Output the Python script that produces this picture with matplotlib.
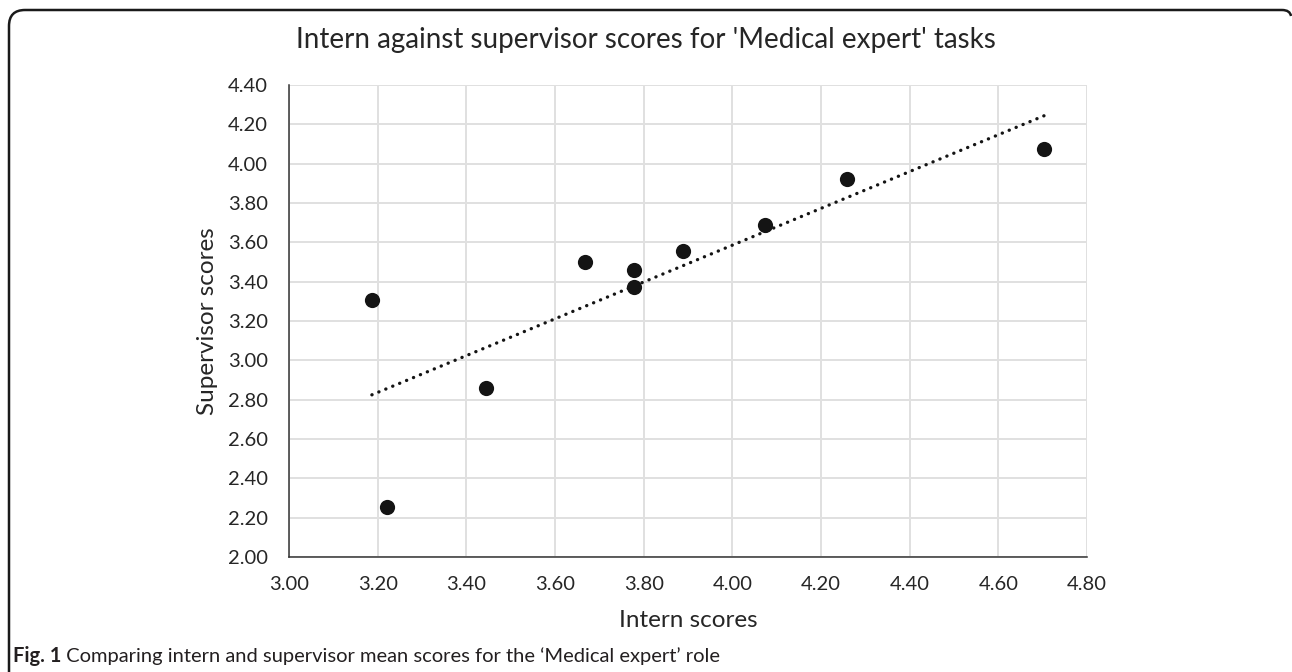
import numpy as np
import matplotlib
matplotlib.use('Agg')
import matplotlib.pyplot as plt
from matplotlib.path import Path
from matplotlib.patches import PathPatch

# Data
intern_scores = [3.187, 3.222, 3.444, 3.667, 3.778, 3.778, 3.889, 4.074, 4.259, 4.704]
supervisor_scores = [3.307, 2.253, 2.858, 3.498, 3.459, 3.373, 3.554, 3.689, 3.920, 4.074]

x_ticks = [3.00, 3.20, 3.40, 3.60, 3.80, 4.00, 4.20, 4.40, 4.60, 4.80]
y_ticks = [2.00, 2.20, 2.40, 2.60, 2.80, 3.00, 3.20, 3.40, 3.60, 3.80, 4.00, 4.20, 4.40]

title = "Intern against supervisor scores for 'Medical expert' tasks"
x_label = 'Intern scores'
y_label = 'Supervisor scores'
caption_bold = 'Fig. 1'
caption_rest = ' Comparing intern and supervisor mean scores for the \u2018Medical expert\u2019 role'

plt.rcParams['font.family'] = ['Lato', 'DejaVu Sans']
text_col = '#262626'

W, H = 1292, 672
fig = plt.figure(figsize=(W / 100, H / 100), dpi=100)
ax = fig.add_axes([289 / W, 1 - 557 / H, (1087 - 289) / W, (557 - 85) / H])

# Scatter points
ax.scatter(intern_scores, supervisor_scores, s=120, color='#141414', zorder=3, linewidths=0)

# Linear trendline (dotted) over data range
fit = np.polyfit(intern_scores, supervisor_scores, 1)
xs = np.array([min(intern_scores), max(intern_scores)])
ax.plot(xs, np.polyval(fit, xs), color='#141414', linewidth=2.4,
        linestyle=(0, (0.05, 2.2)), dash_capstyle='round', zorder=2)

ax.set_xlim(x_ticks[0], x_ticks[-1])
ax.set_ylim(y_ticks[0], y_ticks[-1])
ax.set_xticks(x_ticks)
ax.set_yticks(y_ticks)
ax.set_xticklabels([f'{v:.2f}' for v in x_ticks])
ax.set_yticklabels([f'{v:.2f}' for v in y_ticks])
ax.tick_params(length=0, labelsize=14.5, colors=text_col)
ax.tick_params(axis='x', pad=14)
ax.tick_params(axis='y', pad=15)

ax.grid(True, color='#e0e0e0', linewidth=1.4, zorder=0)
ax.set_axisbelow(True)
for side in ['top', 'right']:
    ax.spines[side].set_visible(False)
for side in ['left', 'bottom']:
    ax.spines[side].set_color('#333333')
    ax.spines[side].set_linewidth(1.1)

ax.set_xlabel(x_label, fontsize=17.5, color=text_col, labelpad=12)
ax.set_ylabel(y_label, fontsize=17.5, color=text_col, labelpad=7)

fig.text(0.5, 1 - 40 / H, title, ha='center', va='center', fontsize=20, color=text_col)

# Caption below chart
t1 = fig.text(13 / W, 1 - 662 / H, caption_bold, ha='left', va='baseline',
              fontsize=14.5, fontweight='bold', color='#231f20')
fig.canvas.draw()
bb = t1.get_window_extent()
fig.text(bb.x1 / W, 1 - 662 / H, caption_rest, ha='left', va='baseline',
         fontsize=14.5, color='#231f20')

# Rounded frame (left and top sides)
def px(x, y):
    return (x / W, 1 - y / H)

verts = [px(9, 672), px(9, 26), px(9, 10), px(25, 10), px(1282, 10), px(1290, 10), px(1291, 16)]
codes = [Path.MOVETO, Path.LINETO, Path.CURVE3, Path.CURVE3, Path.LINETO, Path.CURVE3, Path.CURVE3]
frame = PathPatch(Path(verts, codes), fill=False, edgecolor='#1a1a1a', linewidth=1.8,
                  transform=fig.transFigure)
fig.add_artist(frame)

fig.savefig('out.png', dpi=100, facecolor='white')
